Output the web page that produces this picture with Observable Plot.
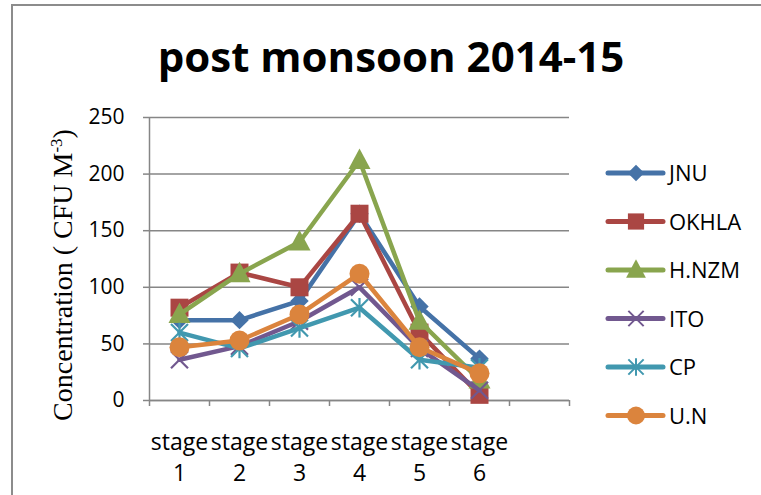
<!DOCTYPE html>
<html>
<head>
<meta charset="utf-8">
<script src="https://cdn.jsdelivr.net/npm/d3@7"></script>
<script src="https://cdn.jsdelivr.net/npm/@observablehq/plot@0.6"></script>
<style>
  body { margin: 0; background: #fff; }
  #wrap { position: relative; width: 761px; height: 495px; overflow: hidden; background: #fff; }
  #wrap > svg { position: absolute; left: 0; top: 0; }
  #border { position: absolute; left: 11px; top: 4px; width: 800px; height: 600px;
            border-top: 2px solid #8c8c8c; border-left: 2px solid #8c8c8c; }
</style>
</head>
<body>
<div id="wrap"><div id="border"></div></div>
<script>
// ---- data ----
const stages = [1, 2, 3, 4, 5, 6];
const seriesNames = ["JNU", "OKHLA", "H.NZM", "ITO", "CP", "U.N"];
const JNU   = [71, 71, 88, 165, 83, 37];
const OKHLA = [82, 113, 100, 165, 60, 5];
const HNZM  = [76, 112, 140, 212, 70, 18];
const ITO   = [36, 48, 70, 100, 46, 9];
const CP    = [60, 46, 64, 82, 36, 29];
const UN    = [47, 53, 76, 112, 47, 24];
const seriesValues = [JNU, OKHLA, HNZM, ITO, CP, UN];
const colors = ["#4572A7", "#AA4643", "#89A54E", "#71588F", "#4198AF", "#DB843D"];
const yTicks = [0, 50, 100, 150, 200, 250];
const xBounds = [0.5, 1.5, 2.5, 3.5, 4.5, 5.5, 6.5, 7.5];
const titleText = "post monsoon 2014-15";

// ---- marker symbols (size -> half-extent h) ----
const H = s => Math.sqrt(s / Math.PI);
const symDiamond = { draw(c, s) { const h = H(s) * 0.92; c.moveTo(0, -h); c.lineTo(h, 0); c.lineTo(0, h); c.lineTo(-h, 0); c.closePath(); } };
const symSquare = { draw(c, s) { const h = H(s) * 0.9; c.rect(-h, -h, 2 * h, 2 * h); } };
const symTriangle = { draw(c, s) { const h = H(s); const w = h * 1.1; c.moveTo(0, -h * 1.2); c.lineTo(w, h * 0.85); c.lineTo(-w, h * 0.85); c.closePath(); } };
const symTimes = { draw(c, s) { const h = H(s) * 0.85; c.moveTo(-h, -h); c.lineTo(h, h); c.moveTo(h, -h); c.lineTo(-h, h); } };
const symStar = { draw(c, s) { const h = H(s) * 0.85; c.moveTo(-h, -h); c.lineTo(h, h); c.moveTo(h, -h); c.lineTo(-h, h); c.moveTo(0, -h * 1.15); c.lineTo(0, h * 1.15); } };
const symCircle = { draw(c, s) { const h = H(s); c.moveTo(h, 0); c.arc(0, 0, h, 0, 2 * Math.PI); } };
const symbols = [symDiamond, symSquare, symTriangle, symTimes, symStar, symCircle];
const filled = [true, true, true, false, false, true];

const data = [];
seriesNames.forEach((name, i) => stages.forEach((st, j) => data.push({ series: name, stage: st, value: seriesValues[i][j] })));

const gray = "#868686";
const marks = [
  Plot.gridY(yTicks, { stroke: gray, strokeOpacity: 1, strokeWidth: 1.5 }),
  Plot.ruleX([xBounds[0]], { stroke: gray, strokeWidth: 1.5 }),
  Plot.ruleY([yTicks[0]], { stroke: gray, strokeWidth: 1.5 }),
  Plot.axisY(yTicks, { tickSize: 6, tickPadding: 19, stroke: gray, fill: "#000", fontSize: 21, label: null, strokeWidth: 1.5 }),
  Plot.axisX(xBounds, { tickSize: 6, stroke: gray, tickFormat: () => "", label: null, strokeWidth: 1.5 }),
  Plot.axisX(stages, { tickSize: 0, tickPadding: 27, fill: "#000", fontSize: 23, lineHeight: 1.35,
                       tickFormat: d => "stage\n" + d, label: null })
];
seriesNames.forEach((name, i) => {
  const rows = data.filter(d => d.series === name);
  marks.push(Plot.line(rows, { x: "stage", y: "value", stroke: colors[i], strokeWidth: 4.5,
                               strokeLinejoin: "round", strokeLinecap: "round" }));
  marks.push(Plot.dot(rows, filled[i]
    ? { x: "stage", y: "value", symbol: () => symbols[i], r: 10, fill: colors[i], stroke: "none" }
    : { x: "stage", y: "value", symbol: () => symbols[i], r: 10, fill: "none", stroke: colors[i], strokeWidth: 2.2 }));
});

const chart = Plot.plot({
  width: 761, height: 495,
  marginLeft: 149, marginRight: 192, marginTop: 117, marginBottom: 95,
  style: { fontFamily: "'Open Sans', sans-serif", background: "transparent", overflow: "visible" },
  x: { type: "linear", domain: [xBounds[0], xBounds[xBounds.length - 1]], axis: null },
  y: { domain: [yTicks[0], yTicks[yTicks.length - 1]], axis: null },
  symbol: { type: "identity" },
  marks
});
document.getElementById("wrap").appendChild(chart);

// ---- overlay: title, y-axis title, legend ----
const ov = d3.select("#wrap").append("svg").attr("width", 761).attr("height", 495)
  .style("font-family", "'Open Sans', sans-serif");
ov.append("text").attr("x", 391).attr("y", 72).attr("text-anchor", "middle")
  .attr("font-size", 42).attr("font-weight", "bold").attr("fill", "#000").text(titleText);

const yt = ov.append("text").attr("transform", "translate(72,275) rotate(-90)")
  .attr("text-anchor", "middle").attr("font-family", "'Liberation Serif', serif")
  .attr("font-size", 28).attr("fill", "#000");
yt.append("tspan").text("Concentration ( CFU M");
yt.append("tspan").attr("font-size", 17).attr("dy", -10).text("-3");
yt.append("tspan").attr("dy", 10).text(")");

seriesNames.forEach((name, i) => {
  const y = 173 + i * 48.5;
  const g = ov.append("g");
  g.append("line").attr("x1", 608).attr("x2", 663).attr("y1", y).attr("y2", y)
    .attr("stroke", colors[i]).attr("stroke-width", 5).attr("stroke-linecap", "round");
  const p = g.append("path").attr("transform", `translate(636,${y})`)
    .attr("d", d3.symbol(symbols[i], Math.PI * 81)());
  if (filled[i]) p.attr("fill", colors[i]);
  else p.attr("fill", "none").attr("stroke", colors[i]).attr("stroke-width", 2);
  g.append("text").attr("x", 669).attr("y", y + 8).attr("font-size", 22).attr("fill", "#000").text(name);
});
</script>
</body>
</html>
